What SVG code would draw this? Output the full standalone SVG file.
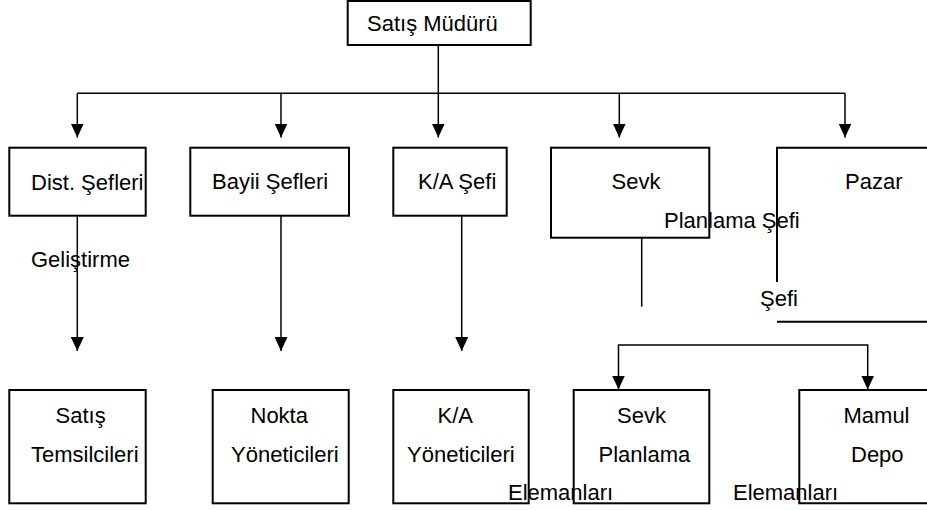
<svg xmlns="http://www.w3.org/2000/svg" width="927" height="510" viewBox="0 0 927 510">
  <style>
    .box { fill: none; stroke: #000; stroke-width: 2; }
    .edge { fill: none; stroke: #000; stroke-width: 1.5; }
    .arrow { fill: none; stroke: #000; stroke-width: 1.5; marker-end: url(#head); }
    text { font-family: "Liberation Sans", Arial, sans-serif; font-size: 22px; fill: #000; }
  </style>
  <defs>
    <marker id="head" viewBox="0 0 14 13" refX="14" refY="6.5" markerWidth="14" markerHeight="13" markerUnits="userSpaceOnUse" orient="auto">
      <path d="M0,0 L14,6.5 L0,13 z" fill="#000"/>
    </marker>
  </defs>

  <rect width="927" height="510" fill="#fff"/>

  <!-- connectors -->
  <g id="connectors">
    <path class="edge" d="M438.3,45 V93.3"/>
    <path class="edge" d="M77.3,93.3 H845"/>
    <path class="arrow" d="M77.3,93.3 V137.5"/>
    <path class="arrow" d="M281,93.3 V137.5"/>
    <path class="arrow" d="M438.3,93.3 V137.5"/>
    <path class="arrow" d="M619.3,93.3 V137.5"/>
    <path class="arrow" d="M845,93.3 V137.5"/>

    <path class="arrow" d="M77.3,215.7 V351"/>
    <path class="arrow" d="M281,215.7 V351"/>
    <path class="arrow" d="M461.7,215.7 V351"/>

    <path class="edge" d="M641.7,237.5 V306.7"/>
    <path class="arrow" d="M743,345 H618.5 V389.5"/>
    <path class="arrow" d="M743,345 H867.7 V389.5"/>
  </g>

  <!-- top level -->
  <g id="satis-muduru">
    <rect class="box" x="347.7" y="1" width="183" height="44"/>
    <text x="367" y="30.7">Satış Müdürü</text>
  </g>

  <!-- second level -->
  <g id="dist-sefleri">
    <rect class="box" x="9.3" y="147.7" width="136.4" height="68"/>
    <text x="31" y="190">Dist. Şefleri</text>
  </g>
  <g id="bayii-sefleri">
    <rect class="box" x="190.3" y="147.7" width="158.7" height="68"/>
    <text x="212" y="189.3">Bayii Şefleri</text>
  </g>
  <g id="ka-sefi">
    <rect class="box" x="393.3" y="147.7" width="113.4" height="68"/>
    <text x="418" y="189.3">K/A Şefi</text>
  </g>
  <g id="sevk-planlama-sefi">
    <rect class="box" x="551" y="147.7" width="158.3" height="90"/>
    <text x="611.5" y="189.3">Sevk</text>
    <text x="664" y="228.3">Planlama Şefi</text>
  </g>
  <g id="pazar-gelistirme-sefi">
    <path class="box" d="M777,282 V147.7 H930"/>
    <path class="box" d="M777,321.7 H930"/>
    <text x="845" y="189.3">Pazar</text>
    <text x="31" y="266.7">Geliştirme</text>
    <text x="760" y="306">Şefi</text>
  </g>

  <!-- third level -->
  <g id="satis-temsilcileri">
    <rect class="box" x="9.3" y="390" width="136.4" height="113.3"/>
    <text x="55.5" y="423.3">Satış</text>
    <text x="31" y="461.7">Temsilcileri</text>
  </g>
  <g id="nokta-yoneticileri">
    <rect class="box" x="212.7" y="390" width="136" height="113.3"/>
    <text x="250.5" y="423.3">Nokta</text>
    <text x="231" y="461.7">Yöneticileri</text>
  </g>
  <g id="ka-yoneticileri">
    <rect class="box" x="393.3" y="390" width="135.4" height="113.3"/>
    <text x="437.5" y="423.3">K/A</text>
    <text x="407" y="461.7">Yöneticileri</text>
  </g>
  <g id="sevk-planlama-elemanlari">
    <rect class="box" x="573.7" y="390" width="135.6" height="113.3"/>
    <text x="617" y="423.3">Sevk</text>
    <text x="598.5" y="461.7">Planlama</text>
    <text x="508" y="500">Elemanları</text>
  </g>
  <g id="mamul-depo-elemanlari">
    <path class="box" d="M930,390 H799.3 V503.3 H930"/>
    <text x="843.5" y="423.3">Mamul</text>
    <text x="851" y="461.7">Depo</text>
    <text x="733" y="500">Elemanları</text>
  </g>
</svg>
